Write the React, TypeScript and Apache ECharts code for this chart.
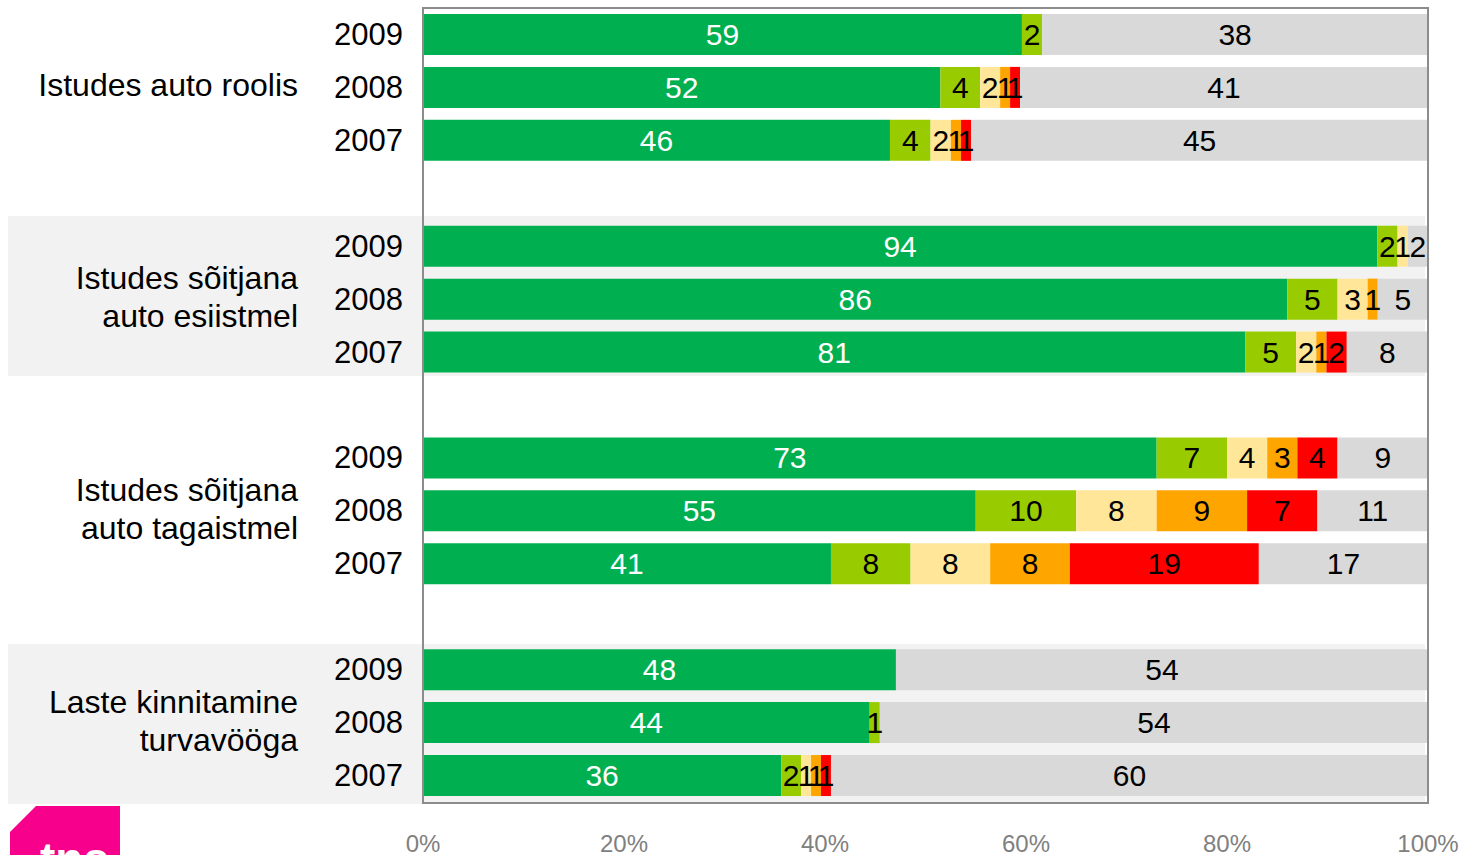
import React, { useEffect, useRef } from "react";
import * as echarts from "echarts";

const groups = [
  "Istudes auto roolis",
  "Istudes sõitjana\nauto esiistmel",
  "Istudes sõitjana\nauto tagaistmel",
  "Laste kinnitamine\nturvavööga",
];
const years = ["2009", "2008", "2007"];
const xTicks = [0, 20, 40, 60, 80, 100];

// Values per bar, order: group1 2009/2008/2007, group2 ..., group4
const greenVals = [59, 52, 46, 94, 86, 81, 73, 55, 41, 48, 44, 36];
const yellowGreenVals = [2, 4, 4, 2, 5, 5, 7, 10, 8, 0, 1, 2];
const lightYellowVals = [0, 2, 2, 1, 3, 2, 4, 8, 8, 0, 0, 1];
const orangeVals = [0, 1, 1, 0, 1, 1, 3, 9, 8, 0, 0, 1];
const redVals = [0, 1, 1, 0, 0, 2, 4, 7, 19, 0, 0, 1];
const grayVals = [38, 41, 45, 2, 5, 8, 9, 11, 17, 54, 54, 60];

const seriesDefs = [
  { name: "s1", vals: greenVals, color: "#00b050", label: "#ffffff" },
  { name: "s2", vals: yellowGreenVals, color: "#99cc00", label: "#000000" },
  { name: "s3", vals: lightYellowVals, color: "#ffe699", label: "#000000" },
  { name: "s4", vals: orangeVals, color: "#ffa500", label: "#000000" },
  { name: "s5", vals: redVals, color: "#ff0000", label: "#000000" },
  { name: "s6", vals: grayVals, color: "#d9d9d9", label: "#000000" },
];

const FONT = "'Liberation Sans', Arial, sans-serif";

export default function App() {
  const ref = useRef<HTMLDivElement>(null);
  useEffect(() => {
    if (!ref.current) return;
    const chart = echarts.init(ref.current, null, { renderer: "svg" });

    const cats: string[] = [];
    const slotIndex: number[] = [];
    groups.forEach((g, gi) => {
      years.forEach((y, yi) => {
        cats.push(`${gi}|${y}`);
        slotIndex.push(gi * 3 + yi);
      });
      if (gi < groups.length - 1) {
        cats.push(`gap${gi}`);
        slotIndex.push(-1);
      }
    });

    const sums = greenVals.map((_, i) =>
      seriesDefs.reduce((a, s) => a + s.vals[i], 0)
    );

    const series = seriesDefs.map((s) => ({
      name: s.name,
      type: "bar",
      stack: "total",
      barWidth: 41,
      itemStyle: { color: s.color },
      label: {
        show: true,
        position: "inside",
        color: s.label,
        fontSize: 30,
        fontFamily: FONT,
        formatter: (p: any) =>
          p.data && p.data.raw > 0 ? String(p.data.raw) : "",
      },
      data: slotIndex.map((bi) =>
        bi < 0
          ? { value: null, raw: 0 }
          : { value: (s.vals[bi] / sums[bi]) * 100, raw: s.vals[bi] }
      ),
    }));

    const gridLeft = 423;
    const gridTop = 8;
    const gridW = 1005;
    const gridH = 795;
    const slot = gridH / cats.length;

    const graphics: any[] = [];
    // background bands for groups 2 and 4
    [216, 644].forEach((by) => {
      graphics.push({
        type: "rect",
        z: -10,
        shape: { x: 8, y: by, width: 1425 - 8, height: 160 },
        style: { fill: "#f2f2f2" },
      });
    });
    // group labels
    groups.forEach((g, gi) => {
      const mid = gridTop + (gi * 4 + 1.5) * slot - 3;
      graphics.push({
        type: "text",
        z: 50,
        style: {
          text: g,
          x: 298,
          y: mid,
          align: "right",
          verticalAlign: "middle",
          fontSize: 32,
          lineHeight: 38,
          fontFamily: FONT,
          fill: "#000",
        },
      });
    });
    // plot box
    graphics.push({
      type: "rect",
      z: 100,
      shape: { x: gridLeft, y: gridTop, width: gridW, height: gridH },
      style: { fill: "none", stroke: "#8c8c8c", lineWidth: 2 },
    });
    // logo
    graphics.push({
      type: "polygon",
      z: 20,
      shape: {
        points: [
          [10, 832],
          [36, 806],
          [120, 806],
          [120, 860],
          [10, 860],
        ],
      },
      style: { fill: "#f7008c" },
    });
    graphics.push({
      type: "text",
      z: 21,
      style: {
        text: "tns",
        x: 40,
        y: 836,
        fontSize: 46,
        fontWeight: "bold",
        fontFamily: FONT,
        fill: "#ffffff",
        verticalAlign: "top",
      },
    });

    chart.setOption({
      animation: false,
      grid: {
        left: gridLeft,
        top: gridTop,
        width: gridW,
        height: gridH,
        containLabel: false,
      },
      xAxis: {
        type: "value",
        min: 0,
        max: 100,
        interval: 20,
        axisLine: { show: false },
        axisTick: { show: false },
        splitLine: { show: false },
        axisLabel: {
          formatter: (v: number) => (xTicks.includes(v) ? `${v}%` : ""),
          color: "#808080",
          fontSize: 24,
          fontFamily: FONT,
          margin: 29,
        },
      },
      yAxis: {
        type: "category",
        inverse: true,
        data: cats,
        axisLine: { show: false },
        axisTick: { show: false },
        splitLine: { show: false },
        axisLabel: {
          formatter: (v: string) => (v.startsWith("gap") ? "" : v.split("|")[1]),
          color: "#000",
          fontSize: 31,
          fontFamily: FONT,
          margin: 20,
        },
      },
      graphic: { elements: graphics },
      series,
    } as any);
    return () => chart.dispose();
  }, []);
  return (
    <div
      ref={ref}
      style={{ position: "fixed", left: 0, top: 0, width: 1465, height: 855, background: "#fff" }}
    />
  );
}
